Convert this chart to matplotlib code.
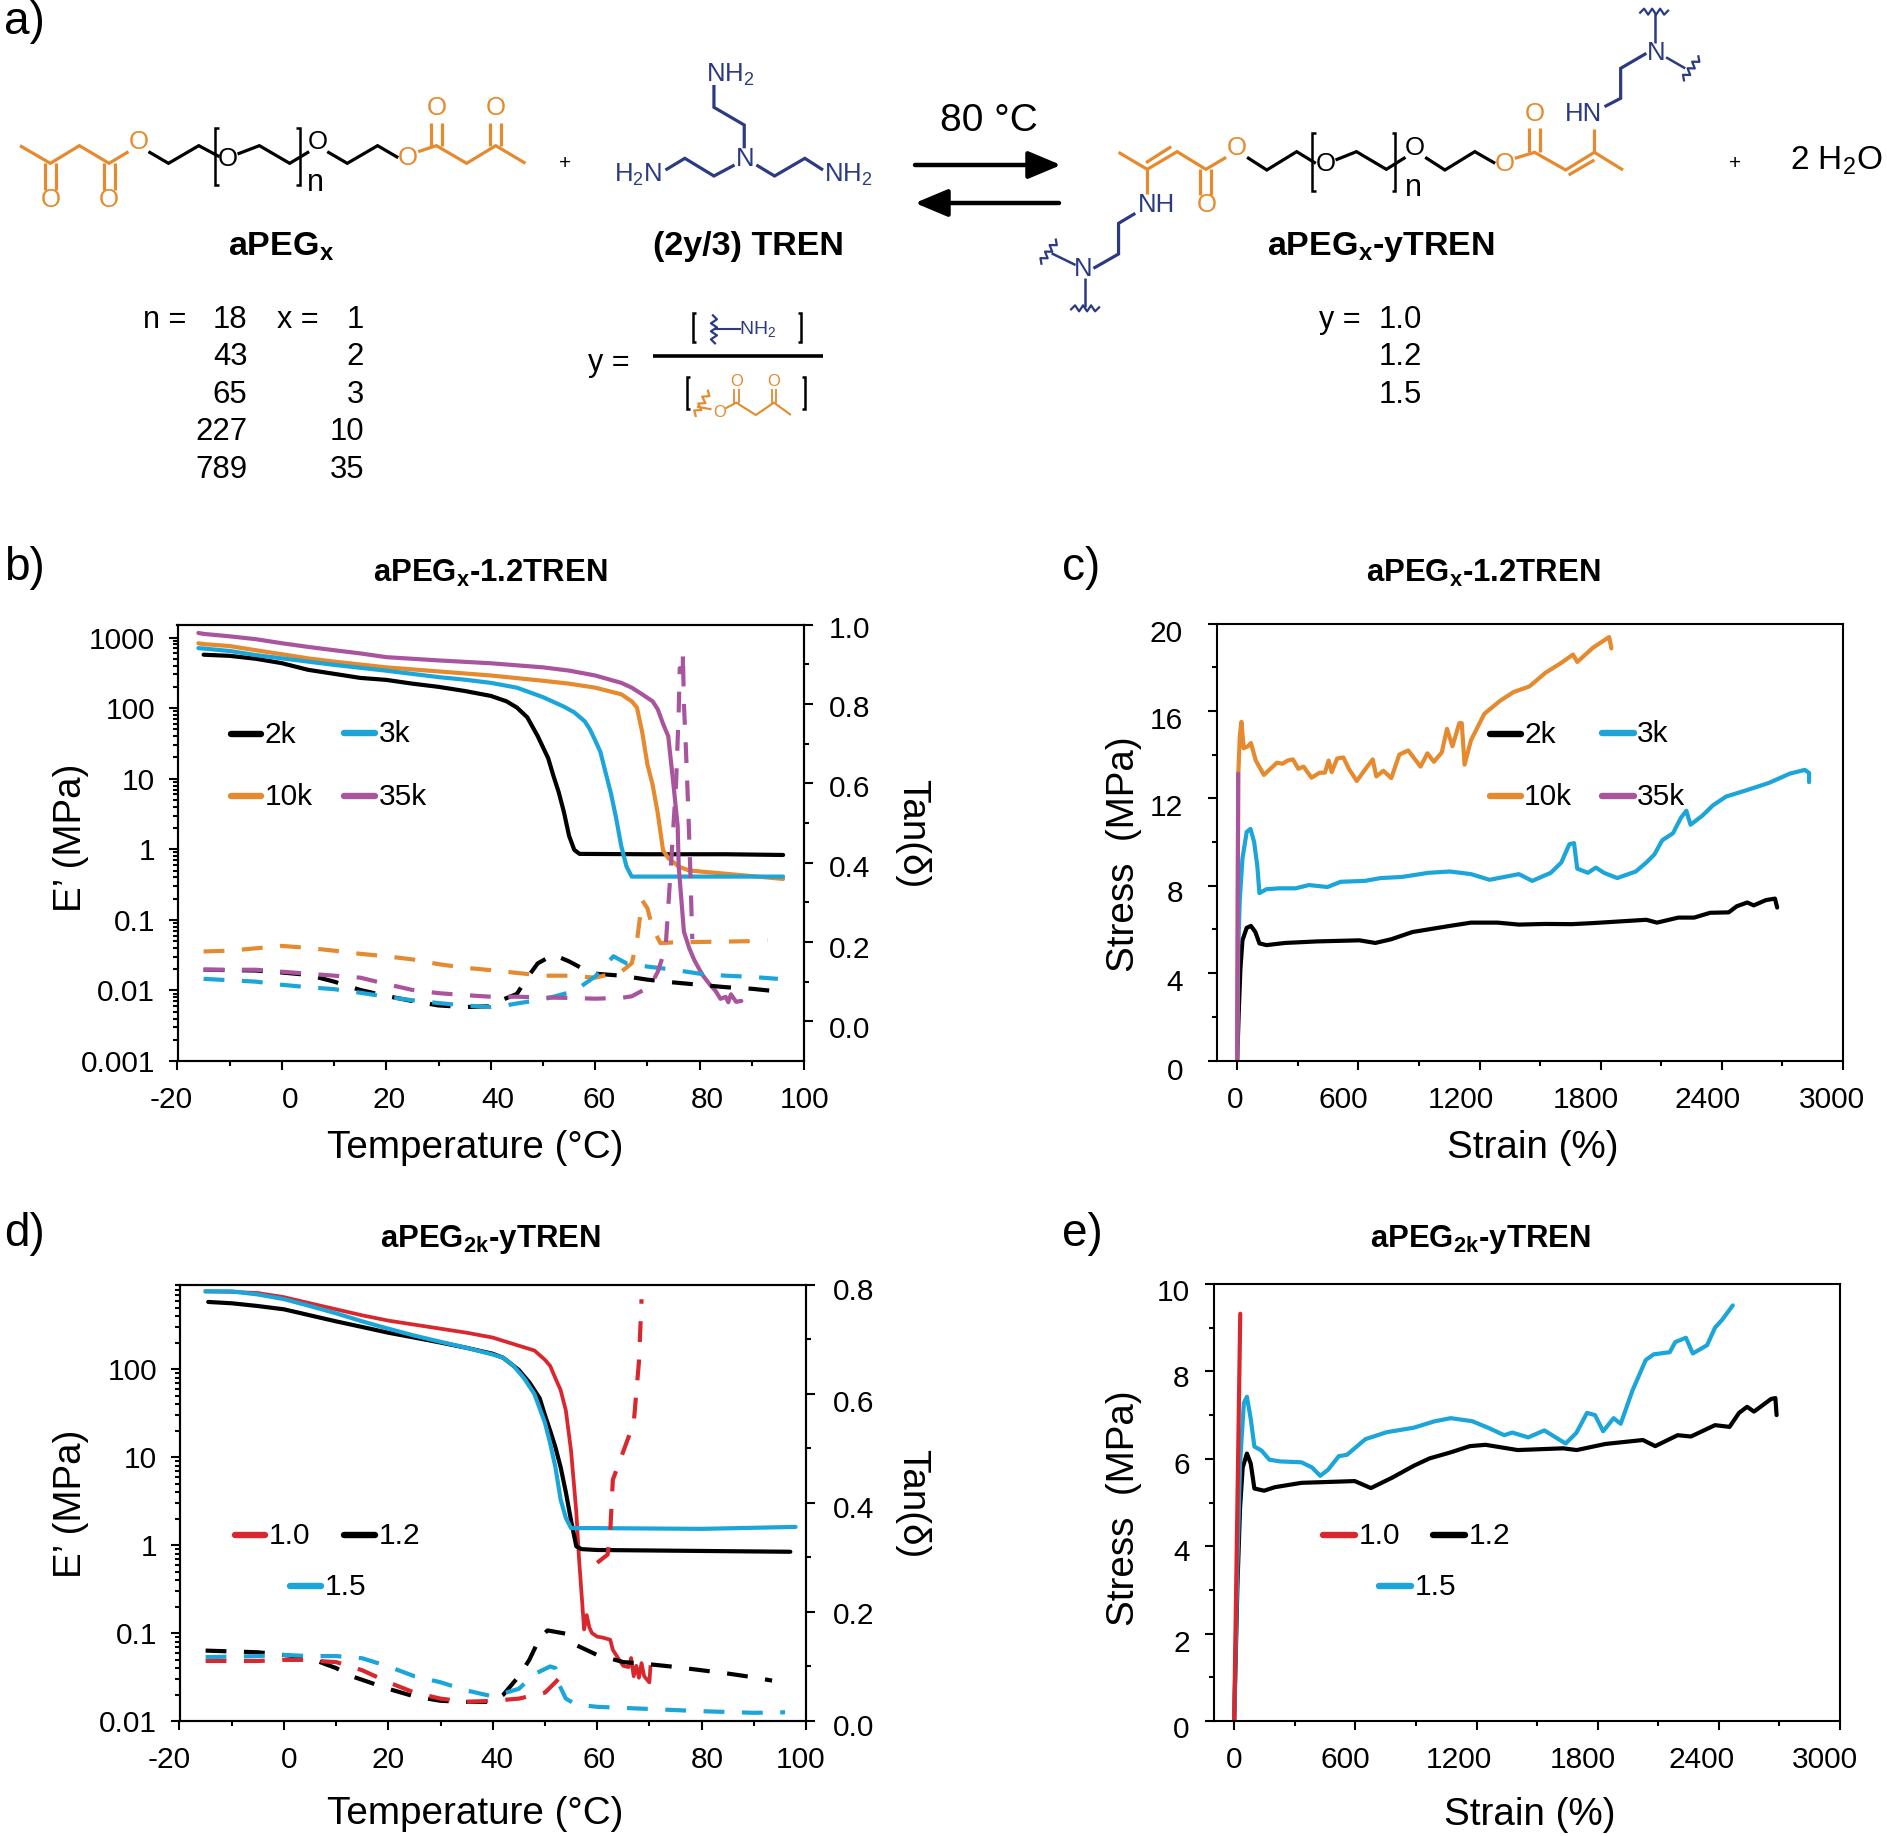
import matplotlib
matplotlib.use('Agg')
import matplotlib.pyplot as plt
from matplotlib.ticker import FixedLocator, FixedFormatter, NullFormatter
from matplotlib.transforms import Affine2D
import numpy as np

plt.rcParams['font.family'] = ['Liberation Sans', 'DejaVu Sans']
plt.rcParams['mathtext.default'] = 'regular'
plt.rcParams['axes.unicode_minus'] = False

BLACK = '#000000'
ORANGE = '#E58A2E'
BLUE = '#1BA5D8'
PURPLE = '#A9559E'
RED = '#D9272E'
NAVY = '#2B3A83'

# ---- b) E' vs temperature
b_t_2k = [-15, -10, -5, 0, 5, 10, 15, 20, 25, 30, 35, 40, 43, 45, 47, 49, 51, 52, 53, 54, 55, 56, 57, 70, 85, 96]
b_e_2k = [571, 550, 500, 433, 349, 306, 268, 251, 222, 200, 175, 149, 125, 102, 74, 40, 19.5, 11, 6.5, 3.4, 1.55, 0.98, 0.86, 0.85, 0.85, 0.83]
b_t_3k = [-16, -15, -10, -5, 0, 5, 10, 20, 30, 35, 40, 45, 50, 54, 56, 58, 59, 60, 61, 62, 63, 64, 65, 66, 67, 80, 96]
b_e_3k = [708, 698, 645, 564, 507, 456, 410, 339, 275, 253, 228, 195, 143, 105, 87, 65, 50, 35, 24, 12.2, 6.3, 2.8, 1.11, 0.57, 0.41, 0.41, 0.41]
b_t_10k = [-16, -15, -10, -5, 0, 5, 10, 20, 30, 40, 50, 55, 60, 65, 67, 68, 69, 70, 71, 72, 73, 74, 76, 78, 85, 96]
b_e_10k = [830, 807, 757, 661, 580, 507, 456, 378, 331, 290, 244, 222, 195, 157, 125, 102, 46, 16, 8.2, 3.2, 0.97, 0.75, 0.57, 0.5, 0.45, 0.38]
b_t_35k = [-16, -15, -10, -5, 0, 5, 10, 15, 20, 25, 30, 40, 50, 55, 60, 65, 67, 69, 71, 72, 73, 74, 74.5, 75, 75.8, 76, 76.5, 77, 78, 79, 80.5, 82, 83, 84, 85, 85.5, 86, 87, 88]
b_e_35k = [1160, 1127, 1040, 948, 830, 737, 661, 596, 527, 500, 474, 432, 378, 340, 290, 228, 195, 157, 125, 96, 60, 40, 18, 8.2, 2.16, 0.57, 0.197, 0.068, 0.04, 0.0268, 0.0168, 0.012, 0.01, 0.0076, 0.0081, 0.0068, 0.0088, 0.0069, 0.0071]

# b) tan delta
b_tt_2k = [-15, -5, 0, 5, 10, 15, 20, 25, 30, 35, 40, 42, 45, 47, 49, 52, 55, 58, 60, 65, 70, 75, 80, 85, 90, 96]
b_d_2k = [.13, .128, .123, .117, .10, .079, .064, .051, .04, .036, .038, .053, .069, .11, .146, .168, .151, .13, .12, .115, .105, .098, .092, .086, .082, .074]
b_tt_3k = [-15, -5, 0, 5, 10, 15, 20, 25, 30, 35, 40, 42, 45, 50, 52, 56, 60, 63.5, 66, 70, 75, 80, 85, 90, 95]
b_d_3k = [.107, .10, .092, .086, .081, .072, .062, .053, .046, .04, .036, .038, .045, .055, .062, .076, .113, .164, .146, .138, .13, .12, .115, .112, .107]
b_tt_10k = [-15, -10, -5, 0, 5, 10, 15, 20, 25, 30, 35, 40, 45, 50, 55, 60, 65, 67, 68, 69, 70, 71, 72.5, 75, 80, 90, 93]
b_d_10k = [.176, .178, .184, .19, .185, .178, .17, .164, .156, .144, .135, .129, .122, .115, .115, .11, .125, .146, .202, .305, .285, .235, .197, .199, .2, .202, .204]
b_tt_35k = [-15, -5, 0, 5, 10, 15, 20, 25, 30, 35, 40, 45, 50, 55, 60, 65, 67, 70, 71, 72, 73, 73.5, 74.5, 75.5, 76, 76.2, 76.8, 76.8, 77, 77.4, 77.8, 78.2, 78.6]
b_d_35k = [.13, .13, .125, .12, .115, .11, .094, .079, .071, .066, .062, .062, .06, .059, .057, .059, .063, .084, .1, .125, .166, .187, .39, .6, .78, .89, .89, .93, .8, .68, .545, .39, .207]

# ---- c) stress vs strain
c_s_2k = [0, 8, 16, 26, 47, 68, 90, 110, 145, 237, 395, 605, 684, 763, 868, 947, 1053, 1158, 1289, 1395, 1526, 1658, 1763, 1868, 2026, 2079, 2184, 2263, 2342, 2434, 2474, 2526, 2558, 2618, 2663, 2674]
c_y_2k = [0, 2.3, 4.2, 5.5, 6.07, 6.16, 5.88, 5.36, 5.28, 5.38, 5.45, 5.5, 5.38, 5.55, 5.88, 6.0, 6.16, 6.31, 6.31, 6.22, 6.25, 6.24, 6.29, 6.35, 6.44, 6.31, 6.54, 6.54, 6.76, 6.78, 7.06, 7.23, 7.1, 7.34, 7.41, 7.0]
c_s_3k = [0, 5, 13, 26, 47, 66, 84, 100, 110, 145, 210, 289, 355, 447, 513, 632, 711, 816, 947, 1053, 1158, 1250, 1395, 1461, 1553, 1605, 1645, 1668, 1684, 1737, 1776, 1816, 1882, 1974, 2026, 2066, 2105, 2158, 2197, 2224, 2245, 2303, 2355, 2421, 2526, 2632, 2737, 2811, 2832, 2832]
c_y_3k = [0, 5.1, 7.4, 9.24, 10.46, 10.6, 9.99, 8.87, 7.66, 7.84, 7.88, 7.88, 8.03, 7.94, 8.18, 8.22, 8.35, 8.4, 8.59, 8.65, 8.53, 8.27, 8.53, 8.22, 8.59, 9.06, 9.9, 9.95, 8.78, 8.59, 8.83, 8.59, 8.35, 8.65, 9.06, 9.43, 10.08, 10.4, 11.1, 11.43, 10.79, 11.2, 11.67, 12.08, 12.38, 12.7, 13.13, 13.3, 13.16, 12.74]
c_s_10k = [0, 5, 13, 21, 32, 53, 68, 92, 132, 197, 224, 250, 276, 303, 329, 368, 408, 434, 453, 468, 495, 526, 553, 592, 632, 671, 689, 724, 763, 803, 847, 908, 942, 974, 1013, 1039, 1066, 1100, 1112, 1126, 1158, 1224, 1303, 1368, 1447, 1526, 1605, 1663, 1684, 1763, 1842, 1853]
c_y_10k = [0, 13, 14.85, 15.5, 14.29, 14.38, 14.53, 13.73, 13.07, 13.63, 13.58, 13.73, 13.78, 13.35, 13.45, 12.94, 13.17, 13.17, 13.73, 13.2, 13.82, 13.87, 13.35, 12.79, 13.3, 13.78, 13.0, 13.26, 12.92, 14.0, 14.19, 13.45, 14.06, 13.67, 14.1, 15.18, 14.38, 15.44, 15.44, 13.54, 14.66, 15.87, 16.47, 16.86, 17.12, 17.74, 18.2, 18.58, 18.24, 18.9, 19.38, 18.86]
c_s_35k = [0, 5]
c_y_35k = [0, 13.13]

# ---- d) E' vs temperature, y series
d_t_10 = [-15, -10, -5, 0, 5, 10, 15, 20, 25, 30, 35, 40, 45, 48, 50, 51, 52, 53, 54, 55, 56, 56.5, 57, 57.5, 58, 58.5, 59, 60, 61, 62.5, 63, 64, 65, 66, 66.5, 67, 67.5, 68, 68.5, 69, 70, 70.2]
d_e_10 = [768, 758, 735, 660, 562, 480, 410, 357, 321, 289, 260, 229, 185, 163, 128, 109, 79, 58, 34, 11.8, 2.4, 0.74, 0.286, 0.11, 0.16, 0.116, 0.1, 0.091, 0.089, 0.084, 0.0645, 0.052, 0.0424, 0.041, 0.052, 0.0323, 0.0424, 0.031, 0.0455, 0.0323, 0.0275, 0.041]
d_t_12 = [-14.5, -10, -5, 0, 5, 10, 15, 20, 25, 30, 35, 40, 42, 45, 47, 49, 50, 51, 52, 53, 54, 55, 56, 57, 60, 97]
d_e_12 = [582, 562, 523, 480, 410, 350, 302, 260, 229, 201, 175, 150, 135, 98, 71, 46.6, 30, 20, 13, 7.7, 4, 1.9, 0.97, 0.9, 0.88, 0.84]
d_t_15 = [-15, -10, -5, 0, 5, 10, 15, 20, 25, 30, 35, 40, 42, 44, 46, 48, 50, 51, 52, 53, 54, 55, 60, 80, 98]
d_e_15 = [768, 768, 708, 627, 523, 432, 350, 289, 241, 205, 175, 147, 135, 109, 79, 52, 24.6, 14.4, 7.7, 3.3, 2.04, 1.56, 1.56, 1.53, 1.61]

d_tt_10 = [-15, -5, 0, 5, 8, 10, 15, 20, 25, 30, 35, 40, 45, 50, 52, 53.5, 57, 60, 62, 62.5, 63, 65, 67, 68, 68.5]
d_d_10 = [.11, .11, .112, .112, .109, .108, .093, .071, .052, .041, .035, .037, .041, .052, .071, .087, np.nan, .29, .305, .346, .442, .494, .546, .658, .773]
d_tt_12 = [-15, -5, 0, 5, 8, 10, 13, 20, 25, 30, 35, 40, 42, 45, 47, 49, 50.5, 54, 56, 60, 65, 70, 75, 80, 85, 90, 93.5]
d_d_12 = [.129, .126, .121, .115, .104, .097, .082, .059, .045, .037, .035, .035, .048, .082, .112, .152, .166, .16, .139, .121, .108, .104, .099, .093, .087, .08, .074]
d_tt_15 = [-15, -5, 0, 5, 10, 15, 20, 25, 30, 35, 40, 45, 48, 51, 52, 52.5, 54, 56, 60, 70, 80, 90, 96]
d_d_15 = [.117, .119, .121, .119, .119, .115, .1, .082, .071, .056, .045, .059, .086, .1, .097, .071, .041, .03, .026, .022, .018, .015, .016]

# ---- e) stress vs strain, y series
e_s_10 = [0, 30]
e_y_10 = [0, 9.32]
e_s_12 = [0, 16, 29, 42, 63, 82, 100, 148, 201, 333, 597, 677, 783, 889, 968, 1074, 1167, 1245, 1404, 1629, 1696, 1839, 2024, 2085, 2196, 2262, 2381, 2453, 2500, 2540, 2574, 2659, 2680, 2686]
e_y_12 = [0, 3.1, 4.87, 5.8, 6.12, 5.89, 5.32, 5.27, 5.35, 5.45, 5.49, 5.33, 5.57, 5.84, 6.01, 6.15, 6.29, 6.32, 6.2, 6.24, 6.2, 6.34, 6.43, 6.29, 6.54, 6.51, 6.77, 6.73, 7.05, 7.19, 7.08, 7.37, 7.39, 7.0]
e_s_15 = [0, 16, 29, 48, 63, 82, 100, 135, 174, 227, 333, 386, 426, 465, 518, 558, 650, 756, 888, 994, 1073, 1179, 1258, 1337, 1377, 1456, 1536, 1641, 1694, 1747, 1787, 1827, 1879, 1914, 1972, 2038, 2077, 2157, 2184, 2237, 2271, 2342, 2381, 2416, 2469]
e_y_15 = [0, 3.57, 5.89, 7.28, 7.42, 6.91, 6.28, 6.19, 5.98, 5.94, 5.92, 5.8, 5.61, 5.75, 6.06, 6.09, 6.45, 6.61, 6.71, 6.86, 6.93, 6.86, 6.71, 6.54, 6.6, 6.49, 6.65, 6.35, 6.59, 7.05, 7.0, 6.63, 6.93, 6.8, 7.56, 8.26, 8.39, 8.44, 8.67, 8.77, 8.41, 8.6, 9.0, 9.18, 9.51]

temp_ticks = [-20, 0, 20, 40, 60, 80, 100]
strain_ticks = [0, 600, 1200, 1800, 2400, 3000]

W, H = 1887, 1836
TICK_FS = 21.5
LABEL_FS = 27.8
TITLE_FS = 22.4
MAJOR = 6.5
MINOR = 3.6
SOLID = dict(lw=3.0, solid_capstyle='round', solid_joinstyle='round')
DASH = dict(lw=3.0, linestyle=(0, (5.0, 4.2)), dash_capstyle='butt')

fig = plt.figure(figsize=(W / 100, H / 100), dpi=100)
px = fig.add_axes([0, 0, 1, 1], zorder=10)
px.set_xlim(0, W)
px.set_ylim(H, 0)
px.axis('off')
px.patch.set_alpha(0)


def make_axes(left, right, top, bottom):
    return fig.add_axes([left / W, 1 - bottom / H, (right - left) / W, (bottom - top) / H])


def nudge(labels, dx, dy):
    for lab, x, y in zip(labels, dx, dy):
        lab.set_transform(lab.get_transform() + Affine2D().translate(x, -y))


def style(ax, pad_x, pad_y):
    for s in ax.spines.values():
        s.set_linewidth(1.5)
    ax.tick_params(which='major', length=MAJOR, width=1.5, direction='out', labelsize=TICK_FS)
    ax.tick_params(which='minor', length=MINOR, width=1.5, direction='out')
    ax.tick_params(axis='x', which='major', pad=pad_x)
    ax.tick_params(axis='y', which='major', pad=pad_y)


def dma_axes(box, ylim, log_ticks, log_labels, tan_lim, tan_ticks, tan_minor, xdx, ydy, rdy, pad_r):
    ax = make_axes(*box)
    ax.set_xlim(-20, 100)
    ax.set_yscale('log')
    ax.set_ylim(*ylim)
    ax.set_xticks(temp_ticks)
    ax.set_xticks(range(-10, 100, 20), minor=True)
    ax.yaxis.set_major_locator(FixedLocator(log_ticks))
    ax.yaxis.set_major_formatter(FixedFormatter(log_labels))
    minors = [m * 10.0 ** e for e in range(-3, 4) for m in range(2, 10)]
    ax.yaxis.set_minor_locator(FixedLocator([m for m in minors if ylim[0] < m < ylim[1]]))
    ax.yaxis.set_minor_formatter(NullFormatter())
    style(ax, 11.5, 9.5)
    nudge(ax.get_xticklabels(), xdx, [0] * len(temp_ticks))
    nudge(ax.get_yticklabels(), [0] * len(log_ticks), ydy)

    tw = ax.twinx()
    tw.set_ylim(*tan_lim)
    tw.set_yticks(tan_ticks)
    tw.set_yticks(tan_minor, minor=True)
    tw.set_yticklabels(['%.1f' % v for v in tan_ticks])
    style(tw, 11.5, pad_r)
    nudge(tw.get_yticklabels(), [0] * len(tan_ticks), rdy)
    return ax, tw


def tensile_axes(box, ymax, yticks, yminor, xdx, ydy, pad_y):
    ax = make_axes(*box)
    ax.set_xlim(-100, 3000)
    ax.set_ylim(0, ymax)
    ax.set_xticks(strain_ticks)
    ax.set_xticks(range(300, 3000, 600), minor=True)
    ax.set_yticks(yticks)
    ax.set_yticks(yminor, minor=True)
    style(ax, 11.5, pad_y)
    nudge(ax.get_xticklabels(), xdx, [0] * len(strain_ticks))
    nudge(ax.get_yticklabels(), [0] * len(yticks), ydy)
    return ax


def set_labels(ax, xlabel, xpos, ylabel, ypos):
    ax.set_xlabel(xlabel, fontsize=LABEL_FS)
    ax.xaxis.set_label_coords(*xpos, transform=px.transData)
    ax.xaxis.label.set_va('center')
    ax.set_ylabel(ylabel, fontsize=LABEL_FS)
    ax.yaxis.set_label_coords(*ypos, transform=px.transData)
    ax.yaxis.label.set_va('center')


def legend_key(x0, x1, y, label, color, tx):
    px.plot([x0, x1], [y, y], color=color, lw=4.6, solid_capstyle='round')
    px.text(tx, y + 1, label, fontsize=21.5, va='center', ha='left')


def head(x, y, s):
    px.text(x, y, s, fontsize=TITLE_FS, fontweight='bold', ha='center', va='center')


# ---- panel b
bx, btw = dma_axes((177.5, 804, 624.5, 1061), (0.001, 1530), [0.001, 0.01, 0.1, 1, 10, 100, 1000],
                   ['0.001', '0.01', '0.1', '1', '10', '100', '1000'], (-0.1, 1.0),
                   [0, .2, .4, .6, .8, 1.0], [.1, .3, .5, .7, .9],
                   [-6, 8, 3, 7, 4, 8, 1], [0] * 7, [6, 5, 3, 3, 2, 2], 11.5)
bx.plot(b_t_2k, b_e_2k, color=BLACK, **SOLID)
bx.plot(b_t_10k, b_e_10k, color=ORANGE, **SOLID)
bx.plot(b_t_3k, b_e_3k, color=BLUE, **SOLID)
bx.plot(b_t_35k, b_e_35k, color=PURPLE, **SOLID)
btw.plot(b_tt_2k, b_d_2k, color=BLACK, **DASH)
btw.plot(b_tt_10k, b_d_10k, color=ORANGE, **DASH)
btw.plot(b_tt_3k, b_d_3k, color=BLUE, **DASH)
btw.plot(b_tt_35k, b_d_35k, color=PURPLE, **DASH)
set_labels(bx, 'Temperature (°C)', (475, 1148), 'E’ (MPa)', (71, 838))
btw.set_ylabel('Tan(δ)', fontsize=LABEL_FS, rotation=270)
btw.yaxis.set_label_coords(912, 834, transform=px.transData)
btw.yaxis.label.set_va('center')
head(490, 573, 'aPEG$_{x}$-1.2TREN')
legend_key(231, 261, 734, '2k', BLACK, 265)
legend_key(344, 375, 733, '3k', BLUE, 379)
legend_key(231, 261, 796, '10k', ORANGE, 265)
legend_key(344, 375, 796, '35k', PURPLE, 379)

# ---- panel c
cx = tensile_axes((1217, 1843, 623.5, 1060.5), 20, [0, 4, 8, 12, 16, 20], [2, 6, 10, 14, 18],
                  [-2, -15, -19, -15, -14, -11], [9, 7, 5, 7, 7, 8], 18)
cx.plot(c_s_2k, c_y_2k, color=BLACK, **SOLID)
cx.plot(c_s_3k, c_y_3k, color=BLUE, **SOLID)
cx.plot(c_s_10k, c_y_10k, color=ORANGE, **SOLID)
cx.plot(c_s_35k, c_y_35k, color=PURPLE, **SOLID)
set_labels(cx, 'Strain (%)', (1533, 1148), 'Stress  (MPa)', (1124, 854))
head(1483, 573, 'aPEG$_{x}$-1.2TREN')
legend_key(1490, 1521, 734, '2k', BLACK, 1524)
legend_key(1602, 1634, 733, '3k', BLUE, 1637)
legend_key(1490, 1521, 796, '10k', ORANGE, 1524)
legend_key(1602, 1634, 796, '35k', PURPLE, 1637)

# ---- panel d
dx_, dtw = dma_axes((179.5, 806, 1284.5, 1721), (0.01, 919), [0.01, 0.1, 1, 10, 100],
                    ['0.01', '0.1', '1', '10', '100'], (0.0, 0.8),
                    [0, .2, .4, .6, .8], [.1, .3, .5, .7],
                    [-10, 5, 0, 4, 2, 6, -5], [0] * 5, [4, 1, 4, 7, 5], 13)
dx_.plot(d_t_10, d_e_10, color=RED, lw=2.7, solid_joinstyle='round')
dx_.plot(d_t_12, d_e_12, color=BLACK, **SOLID)
dx_.plot(d_t_15, d_e_15, color=BLUE, **SOLID)
dtw.plot(d_tt_12, d_d_12, color=BLACK, **DASH)
dtw.plot(d_tt_10, d_d_10, color=RED, **DASH)
dtw.plot(d_tt_15, d_d_15, color=BLUE, **DASH)
set_labels(dx_, 'Temperature (°C)', (475, 1814), 'E’ (MPa)', (71, 1504))
dtw.set_ylabel('Tan(δ)', fontsize=LABEL_FS, rotation=270)
dtw.yaxis.set_label_coords(912, 1504, transform=px.transData)
dtw.yaxis.label.set_va('center')
head(490, 1239, 'aPEG$_{2k}$-yTREN')
legend_key(235, 265, 1535, '1.0', RED, 269)
legend_key(344, 375, 1535, '1.2', BLACK, 379)
legend_key(290, 321, 1586, '1.5', BLUE, 325)

# ---- panel e
ex = tensile_axes((1214, 1840, 1284, 1721), 10, [0, 2, 4, 6, 8, 10], [1, 3, 5, 7, 9],
                  [0, -10, -18, -15, -17, -15], [6, 7, 4, 4, 5, 6], 11)
ex.plot(e_s_12, e_y_12, color=BLACK, **SOLID)
ex.plot(e_s_15, e_y_15, color=BLUE, **SOLID)
ex.plot(e_s_10, e_y_10, color=RED, **SOLID)
set_labels(ex, 'Strain (%)', (1530, 1815), 'Stress  (MPa)', (1124, 1508))
head(1480, 1239, 'aPEG$_{2k}$-yTREN')
legend_key(1323, 1355, 1535, '1.0', RED, 1359)
legend_key(1433, 1465, 1535, '1.2', BLACK, 1469)
legend_key(1379, 1411, 1586, '1.5', BLUE, 1415)

# ---- panel letters
for x, y, s in [(4, 22, 'a)'), (4, 568, 'b)'), (1062, 568, 'c)'), (4, 1234, 'd)'), (1062, 1234, 'e)')]:
    px.text(x, y, s, fontsize=33, ha='left', va='center')

# ---- panel a, chemistry (coordinates, left and right halves)
def L(x, y):
    return x / 1.65, y / 3.0


def R(x, y):
    return 950 + x / 1.673, y / 3.0


def bond(conv, pts, color, lw=2.3):
    xy = [conv(*p) for p in pts]
    px.plot([p[0] for p in xy], [p[1] for p in xy], color=color, lw=lw,
            solid_joinstyle='miter', solid_capstyle='butt')


def double_v(conv, x, y0, y1, color, gap=9, lw=2.3):
    bond(conv, [(x - gap, y0), (x - gap, y1)], color, lw)
    bond(conv, [(x + gap, y0), (x + gap, y1)], color, lw)


def atom(conv, x, y, s, color, fs=18.5):
    x, y = conv(x, y)
    px.text(x, y, s, color=color, fontsize=fs, ha='center', va='center')


def bracket(conv, x, y0, y1, tick, color=BLACK):
    bond(conv, [(x + tick, y0), (x, y0), (x, y1), (x + tick, y1)], color, 1.8)


WAVE = [(-14, 1), (-10, -3), (-6, 3), (-2, -3), (2, 3), (6, -3), (10, 3), (14, -1)]


def wave(conv, x, y, angle, color=NAVY):
    cx0, cy0 = conv(x, y)
    c, s = np.cos(np.radians(angle)), np.sin(np.radians(angle))
    px.plot([cx0 + a * c - b * s for a, b in WAVE], [cy0 + a * s + b * c for a, b in WAVE],
            color=color, lw=1.6, solid_joinstyle='round')


# aPEGx
bond(L, [(33, 437), (83, 490), (131, 437), (180, 490), (212, 455)], ORANGE)
double_v(L, 83, 490, 570, ORANGE)
double_v(L, 180, 490, 570, ORANGE)
atom(L, 83, 600, 'O', ORANGE)
atom(L, 180, 600, 'O', ORANGE)
atom(L, 229, 425, 'O', ORANGE)
bond(L, [(245, 455), (278, 490), (328, 437), (362, 470)], BLACK)
atom(L, 376, 477, 'O', BLACK)
bond(L, [(392, 462), (428, 437), (478, 490), (510, 455)], BLACK)
atom(L, 525, 425, 'O', BLACK)
bond(L, [(540, 455), (573, 490), (623, 437), (657, 473)], BLACK)
atom(L, 672, 475, 'O', ORANGE)
bond(L, [(690, 455), (720, 437), (770, 490), (818, 437), (867, 490)], ORANGE)
double_v(L, 720, 437, 370, ORANGE)
double_v(L, 818, 437, 370, ORANGE)
atom(L, 720, 325, 'O', ORANGE)
atom(L, 818, 325, 'O', ORANGE)
bracket(L, 355, 385, 555, 6)
bracket(L, 495, 385, 555, -6)
atom(L, 520, 550, 'n', BLACK, 22)
atom(L, 933, 490, '+', BLACK, 15)

# TREN
bond(L, [(1178, 255), (1178, 322), (1228, 375), (1228, 445)], NAVY)
bond(L, [(1212, 495), (1178, 528), (1130, 475), (1098, 510)], NAVY)
bond(L, [(1248, 495), (1278, 528), (1328, 475), (1358, 510)], NAVY)
atom(L, 1230, 478, 'N', NAVY)
atom(L, 1205, 225, 'NH$_{2}$', NAVY)
atom(L, 1052, 525, 'H$_{2}$N', NAVY)
atom(L, 1400, 525, 'NH$_{2}$', NAVY)

# y fraction
atom(L, 1005, 1090, 'y =', BLACK, 22)
bond(L, [(1078, 1067), (1358, 1067)], BLACK, 2.6)
bracket(L, 1143, 940, 1025, 5)
bracket(L, 1322, 940, 1025, -5)
wave(L, 1178, 988, 90)
bond(L, [(1180, 988), (1222, 988)], NAVY, 1.5)
atom(L, 1250, 988, 'NH$_{2}$', NAVY, 14)
bracket(L, 1133, 1130, 1228, 5)
bracket(L, 1328, 1130, 1228, -5)
wave(L, 1158, 1210, 120, ORANGE)
bond(L, [(1150, 1220), (1174, 1228)], ORANGE, 1.5)
atom(L, 1187, 1238, 'O', ORANGE, 12)
bond(L, [(1197, 1225), (1215, 1208), (1247, 1245), (1277, 1208), (1305, 1245)], ORANGE, 1.5)
double_v(L, 1215, 1208, 1168, ORANGE, 4, 1.3)
double_v(L, 1277, 1208, 1168, ORANGE, 4, 1.3)
atom(L, 1215, 1143, 'O', ORANGE, 12)
atom(L, 1277, 1143, 'O', ORANGE, 12)

# n / x table
n_values = ['18', '43', '65', '227', '789']
x_values = ['1', '2', '3', '10', '35']
rows = [960, 1072, 1185, 1297, 1410]
atom(L, 271, 960, 'n =', BLACK, 22)
atom(L, 492, 960, 'x =', BLACK, 22)
for yy, nv, xv in zip(rows, n_values, x_values):
    px.text(*L(408, yy), nv, fontsize=22.4, ha='right', va='center')
    px.text(*L(601, yy), xv, fontsize=22.4, ha='right', va='center')

for conv, x, y, s in [(L, 463, 740, 'aPEG$_{x}$'), (L, 1235, 740, '(2y/3) TREN'), (R, 720, 740, 'aPEG$_{x}$-yTREN')]:
    xx, yy = conv(x, y)
    px.text(xx, yy, s, fontsize=24.5, fontweight='bold', ha='center', va='center')

# arrows
px.text(989, 121, '80 °C', fontsize=28, ha='center', va='center')
head_style = '-|>,head_length=1.0,head_width=0.42'
px.annotate('', xy=(1061, 165), xytext=(915, 165),
            arrowprops=dict(arrowstyle=head_style, mutation_scale=20, color=BLACK, lw=3.2, shrinkA=0, shrinkB=0))
px.annotate('', xy=(915, 203), xytext=(1059, 203),
            arrowprops=dict(arrowstyle=head_style, mutation_scale=20, color=BLACK, lw=3.2, shrinkA=0, shrinkB=0))

# aPEGx-yTREN
bond(R, [(282, 457), (330, 508), (380, 455), (428, 508), (462, 472)], ORANGE)
bond(R, [(328, 488), (370, 440)], ORANGE)
bond(R, [(330, 508), (330, 583)], ORANGE)
double_v(R, 428, 508, 585, ORANGE)
atom(R, 430, 615, 'O', ORANGE)
atom(R, 480, 443, 'O', ORANGE)
atom(R, 345, 615, 'NH', NAVY)
bond(R, [(310, 640), (282, 670), (282, 762), (240, 805)], NAVY)
atom(R, 222, 808, 'N', NAVY)
bond(R, [(226, 835), (226, 920)], NAVY, 1.8)
bond(R, [(210, 795), (170, 760)], NAVY, 1.8)
wave(R, 226, 925, 0)
wave(R, 165, 755, 125)

bond(R, [(497, 472), (530, 510), (580, 455), (612, 490)], BLACK)
atom(R, 628, 493, 'O', BLACK)
bond(R, [(645, 480), (680, 455), (730, 508), (762, 472)], BLACK)
atom(R, 778, 443, 'O', BLACK)
bond(R, [(795, 472), (828, 510), (878, 455), (912, 490)], BLACK)
atom(R, 928, 493, 'O', ORANGE)
bracket(R, 606, 400, 572, 6)
bracket(R, 745, 400, 572, -6)
atom(R, 775, 565, 'n', BLACK, 22)

bond(R, [(945, 475), (978, 457), (1030, 510), (1078, 457), (1126, 510)], ORANGE)
bond(R, [(1035, 525), (1078, 480)], ORANGE)
double_v(R, 978, 457, 385, ORANGE)
bond(R, [(1078, 457), (1078, 388)], ORANGE)
atom(R, 978, 342, 'O', ORANGE)
atom(R, 1060, 342, 'HN', NAVY)
bond(R, [(1095, 320), (1122, 295), (1122, 205), (1165, 160)], NAVY)
atom(R, 1182, 160, 'N', NAVY)
bond(R, [(1180, 128), (1180, 40)], NAVY, 1.8)
bond(R, [(1198, 172), (1230, 205)], NAVY, 1.8)
wave(R, 1178, 35, 0)
wave(R, 1240, 205, 125)

atom(R, 1313, 490, '+', BLACK, 15)
px.text(*R(1405, 482), '2 H$_{2}$O', fontsize=24, ha='left', va='center')

# y values
atom(R, 652, 960, 'y =', BLACK, 22)
for yy, s in zip([960, 1072, 1185], ['1.0', '1.2', '1.5']):
    px.text(*R(790, yy), s, fontsize=22.4, ha='right', va='center')

fig.savefig('out.png', dpi=100)
